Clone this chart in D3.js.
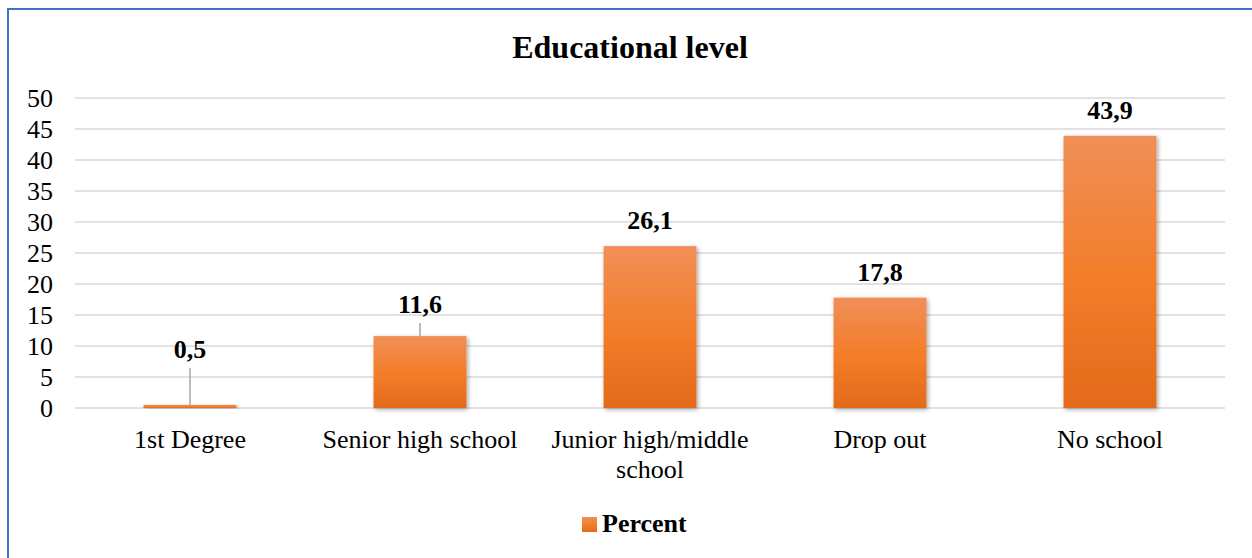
<!DOCTYPE html>
<html>
<head>
<meta charset="utf-8">
<script src="https://cdn.jsdelivr.net/npm/d3@7"></script>
<style>
  html, body { margin: 0; padding: 0; background: #fff; }
  svg { display: block; }
</style>
</head>
<body>
<svg id="chart" width="1252" height="558"></svg>
<script>
// Educational level distribution (percent)
const categories = ["1st Degree", "Senior high school", "Junior high/middle school", "Drop out", "No school"];
const percentValues = [0.5, 11.6, 26.1, 17.8, 43.9];
const valueLabels = ["0,5", "11,6", "26,1", "17,8", "43,9"];
const yTicks = [0, 5, 10, 15, 20, 25, 30, 35, 40, 45, 50];
const categoryLines = [["1st Degree"], ["Senior high school"], ["Junior high/middle", "school"], ["Drop out"], ["No school"]];
const seriesName = "Percent";
const chartTitle = "Educational level";

const FONT = "'Liberation Serif', 'Times New Roman', 'DejaVu Serif', serif";

const svg = d3.select("#chart");

// Outer frame (left and top edges visible)
svg.append("rect")
  .attr("x", 8).attr("y", 9)
  .attr("width", 1300).attr("height", 600)
  .attr("fill", "none")
  .attr("stroke", "#4472C4")
  .attr("stroke-width", 2);

const defs = svg.append("defs");
const grad = defs.append("linearGradient")
  .attr("id", "barFill").attr("x1", 0).attr("y1", 0).attr("x2", 0).attr("y2", 1);
grad.append("stop").attr("offset", "0%").attr("stop-color", "#F08F58");
grad.append("stop").attr("offset", "50%").attr("stop-color", "#F37E2B");
grad.append("stop").attr("offset", "100%").attr("stop-color", "#E36A1B");

const shadow = defs.append("filter").attr("id", "barShadow")
  .attr("x", "-20%").attr("y", "-20%").attr("width", "140%").attr("height", "140%");
shadow.append("feDropShadow")
  .attr("dx", 1.5).attr("dy", 1.5).attr("stdDeviation", 2)
  .attr("flood-color", "#000").attr("flood-opacity", 0.35);

const x = d3.scaleBand()
  .domain(categories)
  .range([75, 1225])
  .paddingInner(0.596)
  .paddingOuter(0.298);

const y = d3.scaleLinear().domain([0, 50]).range([408, 98]);

// Title
svg.append("text")
  .attr("x", 630).attr("y", 58)
  .attr("text-anchor", "middle")
  .attr("font-family", FONT)
  .attr("font-size", 32).attr("font-weight", "bold")
  .text(chartTitle);

// Gridlines
svg.append("g").selectAll("line")
  .data(yTicks)
  .join("line")
  .attr("x1", 75).attr("x2", 1225)
  .attr("y1", d => y(d)).attr("y2", d => y(d))
  .attr("stroke", "#D9D9D9").attr("stroke-width", 1.5);

// Y axis labels
const yAxis = d3.axisLeft(y).tickValues(yTicks).tickSize(0).tickPadding(0).tickFormat(d3.format("d"));
const yg = svg.append("g").attr("transform", "translate(53,0)").call(yAxis);
yg.attr("font-family", FONT).attr("font-size", 26);
yg.select(".domain").remove();
yg.selectAll("text")
  .attr("dy", "0.34em")
  .attr("fill", "#000");

// Bars
svg.append("g").selectAll("rect")
  .data(percentValues)
  .join("rect")
  .attr("x", (d, i) => x(categories[i]))
  .attr("y", d => y(d))
  .attr("width", x.bandwidth())
  .attr("height", d => y(0) - y(d))
  .attr("fill", "url(#barFill)")
  .attr("filter", "url(#barShadow)");

// Data labels (the two shortest bars get leader lines)
const labelBaseline = (d, i) => i === 0 ? y(d) - 47 : (i === 1 ? y(d) - 23 : y(d) - 17);
svg.append("g").selectAll("text")
  .data(percentValues)
  .join("text")
  .attr("x", (d, i) => x(categories[i]) + x.bandwidth() / 2)
  .attr("y", labelBaseline)
  .attr("text-anchor", "middle")
  .attr("font-family", FONT)
  .attr("font-size", 26).attr("font-weight", "bold")
  .text((d, i) => valueLabels[i]);

const leaders = [0, 1];
svg.append("g").selectAll("line")
  .data(leaders)
  .join("line")
  .attr("x1", i => x(categories[i]) + x.bandwidth() / 2)
  .attr("x2", i => x(categories[i]) + x.bandwidth() / 2)
  .attr("y1", i => labelBaseline(percentValues[i], i) + 10)
  .attr("y2", i => y(percentValues[i]))
  .attr("stroke", "#A6A6A6").attr("stroke-width", 1.5);

// Category labels
const cat = svg.append("g").selectAll("text")
  .data(categories)
  .join("text")
  .attr("x", d => x(d) + x.bandwidth() / 2)
  .attr("y", 448)
  .attr("text-anchor", "middle")
  .attr("font-family", FONT)
  .attr("font-size", 26);
cat.each(function(d, i) {
  const t = d3.select(this);
  categoryLines[i].forEach((line, k) => {
    t.append("tspan")
      .attr("x", x(d) + x.bandwidth() / 2)
      .attr("y", 448 + k * 30)
      .text(line);
  });
});

// Legend
svg.append("rect")
  .attr("x", 582).attr("y", 517).attr("width", 15).attr("height", 15)
  .attr("fill", "url(#barFill)");
svg.append("text")
  .attr("x", 602).attr("y", 532)
  .attr("font-family", FONT)
  .attr("font-size", 26).attr("font-weight", "bold")
  .text(seriesName);
</script>
</body>
</html>
